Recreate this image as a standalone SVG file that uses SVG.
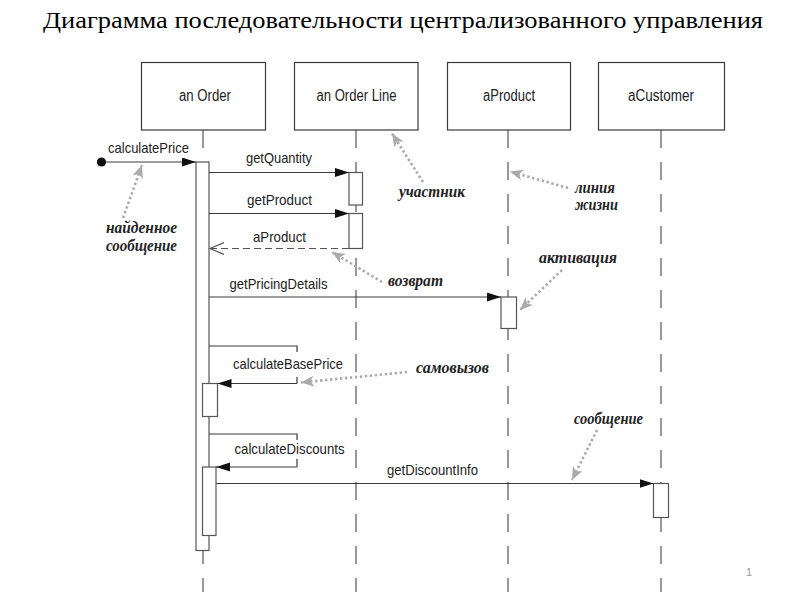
<svg xmlns="http://www.w3.org/2000/svg" width="800" height="600" viewBox="0 0 800 600">
  <defs>
    <style>
      .title { font-family: "Liberation Serif", "Times New Roman", serif; font-size: 23px; fill: #000; }
      .hdr { fill: #fff; stroke: #3a3a3a; stroke-width: 1.2; }
      .hlbl { font-family: "Liberation Sans", Arial, sans-serif; font-size: 16px; fill: #222; text-anchor: middle; }
      .life { stroke: #555; stroke-width: 1.2; stroke-dasharray: 18 14; fill: none; }
      .act { fill: #fff; stroke: #555; stroke-width: 1.2; }
      .msg { stroke: #3a3a3a; stroke-width: 1.2; fill: none; }
      .ret { stroke: #555; stroke-width: 1.2; fill: none; stroke-dasharray: 7 4; }
      .mlbl { font-family: "Liberation Sans", Arial, sans-serif; font-size: 15px; fill: #222; }
      .note { font-family: "Liberation Serif", "Times New Roman", serif; font-style: italic; font-weight: bold; font-size: 16px; fill: #222; }
      .pointer { stroke: #aaa; stroke-width: 2.6; stroke-dasharray: 2.4 2.6; fill: none; }
      .pnum { font-family: "Liberation Sans", Arial, sans-serif; font-size: 11px; fill: #999; }
    </style>
    <marker id="filled" markerUnits="userSpaceOnUse" markerWidth="15" markerHeight="10" refX="14" refY="4.5" orient="auto">
      <path d="M0,0 L14,4.5 L0,9 z" fill="#111"/>
    </marker>
    <marker id="open" markerUnits="userSpaceOnUse" markerWidth="16" markerHeight="14" refX="14" refY="6" orient="auto">
      <path d="M0,0 L14,6 L0,12" fill="none" stroke="#555" stroke-width="1.2"/>
    </marker>
    <marker id="grey" markerUnits="userSpaceOnUse" markerWidth="14" markerHeight="12" refX="13" refY="5.5" orient="auto">
      <path d="M0,0 L13,5.5 L0,11 L3.5,5.5 z" fill="#aaa"/>
    </marker>
  </defs>

  <rect x="0" y="0" width="800" height="600" fill="#fff"/>

  <text class="title" x="43" y="28" textLength="720" lengthAdjust="spacingAndGlyphs">Диаграмма последовательности централизованного управления</text>

  <g id="lifelines">
    <line class="life" x1="203" y1="130" x2="203" y2="592"/>
    <line class="life" x1="356" y1="130" x2="356" y2="592"/>
    <line class="life" x1="508" y1="130" x2="508" y2="592"/>
    <line class="life" x1="661" y1="130" x2="661" y2="592"/>
  </g>

  <g id="anOrder">
    <rect class="hdr" x="141.5" y="62.5" width="124" height="67.5"/>
    <text class="hlbl" x="205" y="101" textLength="52" lengthAdjust="spacingAndGlyphs">an Order</text>
  </g>
  <g id="anOrderLine">
    <rect class="hdr" x="294.5" y="62.5" width="123.5" height="67.5"/>
    <text class="hlbl" x="356.5" y="101" textLength="80" lengthAdjust="spacingAndGlyphs">an Order Line</text>
  </g>
  <g id="aProduct">
    <rect class="hdr" x="447.5" y="62.5" width="123" height="67.5"/>
    <text class="hlbl" x="509" y="101" textLength="52" lengthAdjust="spacingAndGlyphs">aProduct</text>
  </g>
  <g id="aCustomer">
    <rect class="hdr" x="598.5" y="62.5" width="126" height="67.5"/>
    <text class="hlbl" x="661" y="101" textLength="66" lengthAdjust="spacingAndGlyphs">aCustomer</text>
  </g>

  <g id="activations">
    <rect class="act" x="196" y="162" width="13" height="388.5"/>
    <rect class="act" x="349" y="172.5" width="13.5" height="32.5"/>
    <rect class="act" x="349" y="213.5" width="13.5" height="35"/>
    <rect class="act" x="501" y="297" width="15.5" height="31.5"/>
    <rect class="act" x="202.5" y="383.5" width="15" height="33"/>
    <rect class="act" x="202.5" y="467" width="13.5" height="68.5"/>
    <rect class="act" x="653.5" y="483.5" width="15" height="34"/>
  </g>

  <g id="connectors">
    <circle cx="101.5" cy="162" r="4.6" fill="#111"/>
    <line class="msg" x1="106" y1="162" x2="196" y2="162" marker-end="url(#filled)"/>
    <line class="msg" x1="209" y1="172.5" x2="349" y2="172.5" marker-end="url(#filled)"/>
    <line class="msg" x1="209" y1="213.5" x2="349" y2="213.5" marker-end="url(#filled)"/>
    <line class="ret" x1="349" y1="248.5" x2="210" y2="248.5" marker-end="url(#open)"/>
    <line class="msg" x1="209" y1="297" x2="501" y2="297" marker-end="url(#filled)"/>
    <path class="msg" d="M209,346 H297 V352 M297,377 V383.5"/>
    <line class="msg" x1="297" y1="383.5" x2="217.5" y2="383.5" marker-end="url(#filled)"/>
    <path class="msg" d="M209,434 H297 V440 M297,459 V467"/>
    <line class="msg" x1="297" y1="467" x2="216" y2="467" marker-end="url(#filled)"/>
    <line class="msg" x1="216" y1="483.5" x2="653.5" y2="483.5" marker-end="url(#filled)"/>
  </g>

  <g id="messageLabels">
    <text class="mlbl" x="108" y="152.5" textLength="81" lengthAdjust="spacingAndGlyphs">calculatePrice</text>
    <text class="mlbl" x="246" y="162.5" textLength="66" lengthAdjust="spacingAndGlyphs">getQuantity</text>
    <text class="mlbl" x="247" y="205" textLength="65" lengthAdjust="spacingAndGlyphs">getProduct</text>
    <text class="mlbl" x="253" y="241.5" textLength="53" lengthAdjust="spacingAndGlyphs">aProduct</text>
    <text class="mlbl" x="229.5" y="288.5" textLength="98" lengthAdjust="spacingAndGlyphs">getPricingDetails</text>
    <text class="mlbl" x="233" y="368.5" textLength="110" lengthAdjust="spacingAndGlyphs">calculateBasePrice</text>
    <text class="mlbl" x="234.5" y="454" textLength="110" lengthAdjust="spacingAndGlyphs">calculateDiscounts</text>
    <text class="mlbl" x="387" y="475" textLength="91" lengthAdjust="spacingAndGlyphs">getDiscountInfo</text>
  </g>

  <g id="annotations">
    <line class="pointer" x1="123" y1="218" x2="142" y2="165" marker-end="url(#grey)"/>
    <line class="pointer" x1="423" y1="182" x2="392" y2="133.5" marker-end="url(#grey)"/>
    <line class="pointer" x1="568" y1="188" x2="510" y2="171.5" marker-end="url(#grey)"/>
    <line class="pointer" x1="382" y1="282" x2="332" y2="252" marker-end="url(#grey)"/>
    <line class="pointer" x1="562" y1="270" x2="520" y2="310" marker-end="url(#grey)"/>
    <line class="pointer" x1="407" y1="372" x2="301" y2="382.5" marker-end="url(#grey)"/>
    <line class="pointer" x1="597" y1="430" x2="572" y2="480" marker-end="url(#grey)"/>

    <text class="note" x="106" y="233" textLength="71" lengthAdjust="spacingAndGlyphs">найденное</text>
    <text class="note" x="106" y="250.5" textLength="71" lengthAdjust="spacingAndGlyphs">сообщение</text>
    <text class="note" x="399" y="197" textLength="66" lengthAdjust="spacingAndGlyphs">участник</text>
    <text class="note" x="575" y="192.5" textLength="40" lengthAdjust="spacingAndGlyphs">линия</text>
    <text class="note" x="575" y="210" textLength="43" lengthAdjust="spacingAndGlyphs">жизни</text>
    <text class="note" x="539" y="262.5" textLength="78" lengthAdjust="spacingAndGlyphs">активация</text>
    <text class="note" x="388" y="285.5" textLength="55" lengthAdjust="spacingAndGlyphs">возврат</text>
    <text class="note" x="416" y="372.5" textLength="73" lengthAdjust="spacingAndGlyphs">самовызов</text>
    <text class="note" x="574" y="424" textLength="69" lengthAdjust="spacingAndGlyphs">сообщение</text>
  </g>

  <text class="pnum" x="746" y="576">1</text>
</svg>
